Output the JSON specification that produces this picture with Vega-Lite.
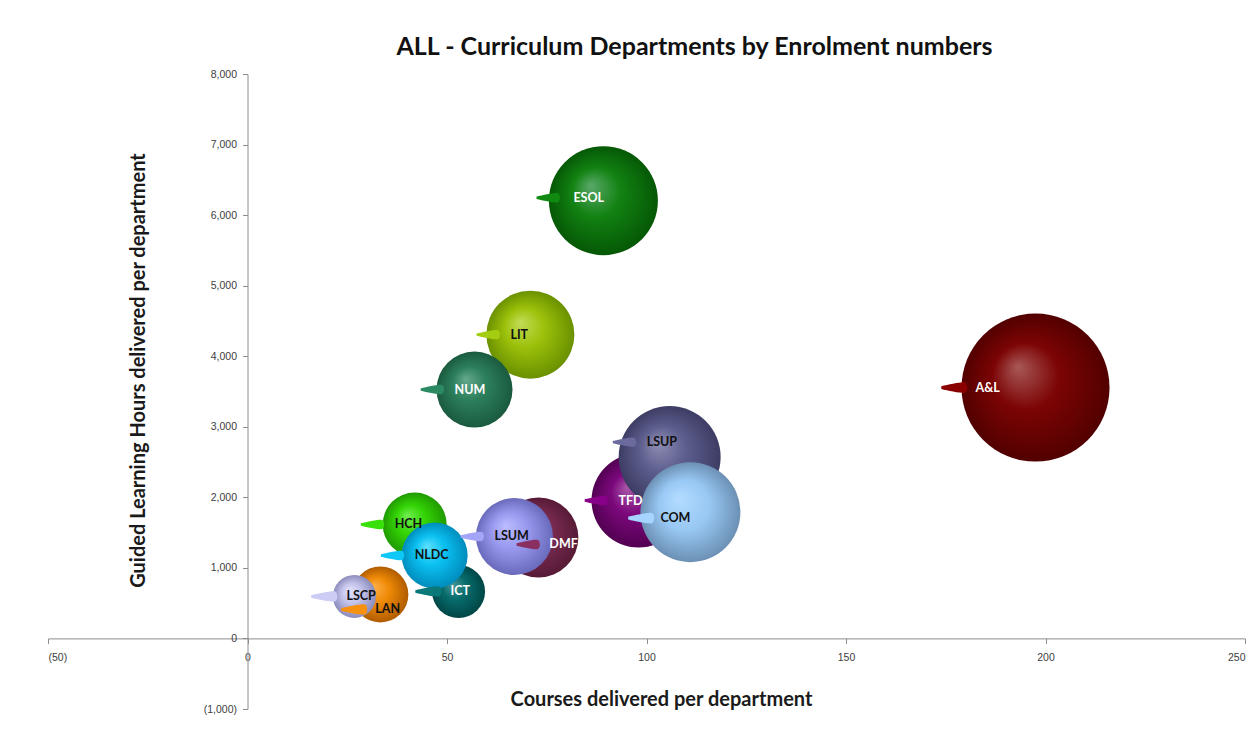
{
  "$schema": "https://vega.github.io/schema/vega-lite/v6.json",
  "autosize": {"type": "none"},
  "padding": {"left": 48, "top": 74, "right": 2, "bottom": 42},
  "width": 1197,
  "height": 635,
  "background": "white",
  "title": {
    "text": "ALL - Curriculum Departments by Enrolment numbers",
    "font": "Lato",
    "fontSize": 25,
    "fontWeight": "bold",
    "color": "#111111",
    "anchor": "middle",
    "dx": 48,
    "offset": 9
  },
  "config": {
    "view": {"stroke": null},
    "axis": {
      "labelFont": "Liberation Sans",
      "labelFontSize": 10.5,
      "labelColor": "#404040",
      "domainColor": "#8c8c8c",
      "tickColor": "#8c8c8c",
      "tickSize": 5,
      "grid": false,
      "titleFont": "Lato",
      "titleFontSize": 20,
      "titleFontWeight": "bold",
      "titleColor": "#1a1a1a"
    }
  },
  "data": {
    "values": [
      {"dept": "A&L", "courses": 197.5, "glh": 3555, "enrolments": 5476},
      {"dept": "ESOL", "courses": 89.2, "glh": 6204, "enrolments": 2970},
      {"dept": "LIT", "courses": 70.9, "glh": 4306, "enrolments": 1936},
      {"dept": "NUM", "courses": 56.9, "glh": 3527, "enrolments": 1444},
      {"dept": "TFD", "courses": 98, "glh": 1955, "enrolments": 2209},
      {"dept": "LSUP", "courses": 105.8, "glh": 2570, "enrolments": 2601},
      {"dept": "COM", "courses": 111, "glh": 1790, "enrolments": 2500},
      {"dept": "DMF", "courses": 72.9, "glh": 1431, "enrolments": 1600},
      {"dept": "LSUM", "courses": 66.9, "glh": 1445, "enrolments": 1482},
      {"dept": "HCH", "courses": 41.9, "glh": 1615, "enrolments": 1024},
      {"dept": "ICT", "courses": 52.9, "glh": 666, "enrolments": 702},
      {"dept": "NLDC", "courses": 46.9, "glh": 1176, "enrolments": 1089},
      {"dept": "LAN", "courses": 33.3, "glh": 623, "enrolments": 784},
      {"dept": "LSCP", "courses": 26.8, "glh": 595, "enrolments": 462}
    ]
  },
  "encoding": {
    "x": {
      "field": "courses",
      "type": "quantitative",
      "scale": {"domain": [-50, 250], "nice": false, "zero": false},
      "axis": {
        "title": "Courses delivered per department",
        "values": [-50, 0, 50, 100, 150, 200, 250],
        "offset": -70.6,
        "labelPadding": 9,
        "labelExpr": "datum.value < 0 ? '(' + format(-datum.value, ',') + ')' : format(datum.value, ',')",
        "titleX": 613,
        "titleY": 61,
        "titleBaseline": "middle",
        "titleAnchor": null
      }
    },
    "y": {
      "field": "glh",
      "type": "quantitative",
      "scale": {"domain": [-1000, 8000], "nice": false, "zero": false},
      "axis": {
        "title": "Guided Learning Hours delivered per department",
        "values": [-1000, 0, 1000, 2000, 3000, 4000, 5000, 6000, 7000, 8000],
        "offset": -199.5,
        "labelPadding": 6,
        "labelExpr": "datum.value < 0 ? '(' + format(-datum.value, ',') + ')' : format(datum.value, ',')",
        "titleX": -109,
        "titleY": 296,
        "titleAngle": -90,
        "titleBaseline": "middle",
        "titleAlign": "center"
      }
    },
    "color": {
      "field": "dept",
      "type": "nominal",
      "legend": null,
      "scale": {
        "domain": ["A&L", "ESOL", "LIT", "NUM", "TFD", "LSUP", "COM", "DMF", "LSUM", "HCH", "ICT", "NLDC", "LAN", "LSCP"],
        "range": ["#8a0000", "#108a10", "#a4cc10", "#2c8a62", "#880088", "#6a6a9c", "#a4d4ff", "#8a3060", "#a4a4f8", "#3ae00a", "#087878", "#10c8f8", "#f89010", "#ccccf4"]
      }
    }
  },
  "layer": [
    {
      "mark": {"type": "point", "shape": "circle", "filled": true, "opacity": 1, "strokeWidth": 0},
      "encoding": {
        "size": {"field": "enrolments", "type": "quantitative", "scale": {"type": "linear", "domain": [0, 5476], "range": [0, 21904], "zero": true}, "legend": null},
        "fill": {
          "condition": [
            {"test": "datum.dept === 'A&L'", "value": {"gradient": "radial", "x1": 0.38, "y1": 0.36, "r1": 0, "x2": 0.5, "y2": 0.5, "r2": 0.5, "stops": [{"offset": 0, "color": "#a85858"}, {"offset": 0.45, "color": "#7c0404"}, {"offset": 1, "color": "#520000"}]}},
            {"test": "datum.dept === 'ESOL'", "value": {"gradient": "radial", "x1": 0.38, "y1": 0.36, "r1": 0, "x2": 0.5, "y2": 0.5, "r2": 0.5, "stops": [{"offset": 0, "color": "#5aa86a"}, {"offset": 0.45, "color": "#128212"}, {"offset": 1, "color": "#055805"}]}},
            {"test": "datum.dept === 'LIT'", "value": {"gradient": "radial", "x1": 0.38, "y1": 0.36, "r1": 0, "x2": 0.5, "y2": 0.5, "r2": 0.5, "stops": [{"offset": 0, "color": "#c2dc58"}, {"offset": 0.45, "color": "#9cc10a"}, {"offset": 1, "color": "#6a9000"}]}},
            {"test": "datum.dept === 'NUM'", "value": {"gradient": "radial", "x1": 0.38, "y1": 0.36, "r1": 0, "x2": 0.5, "y2": 0.5, "r2": 0.5, "stops": [{"offset": 0, "color": "#65a88a"}, {"offset": 0.45, "color": "#2c7f5c"}, {"offset": 1, "color": "#1a5a3e"}]}},
            {"test": "datum.dept === 'TFD'", "value": {"gradient": "radial", "x1": 0.38, "y1": 0.36, "r1": 0, "x2": 0.5, "y2": 0.5, "r2": 0.5, "stops": [{"offset": 0, "color": "#a858a8"}, {"offset": 0.45, "color": "#7c087c"}, {"offset": 1, "color": "#520052"}]}},
            {"test": "datum.dept === 'LSUP'", "value": {"gradient": "radial", "x1": 0.38, "y1": 0.36, "r1": 0, "x2": 0.5, "y2": 0.5, "r2": 0.5, "stops": [{"offset": 0, "color": "#8e8eb4"}, {"offset": 0.45, "color": "#5e5e8e"}, {"offset": 1, "color": "#3c3c64"}]}},
            {"test": "datum.dept === 'COM'", "value": {"gradient": "radial", "x1": 0.38, "y1": 0.36, "r1": 0, "x2": 0.5, "y2": 0.5, "r2": 0.5, "stops": [{"offset": 0, "color": "#b4dcff"}, {"offset": 0.5, "color": "#98c8f4"}, {"offset": 1, "color": "#6c90b4"}]}},
            {"test": "datum.dept === 'DMF'", "value": {"gradient": "radial", "x1": 0.38, "y1": 0.36, "r1": 0, "x2": 0.5, "y2": 0.5, "r2": 0.5, "stops": [{"offset": 0, "color": "#a06082"}, {"offset": 0.45, "color": "#7c2c52"}, {"offset": 1, "color": "#561a36"}]}},
            {"test": "datum.dept === 'LSUM'", "value": {"gradient": "radial", "x1": 0.38, "y1": 0.36, "r1": 0, "x2": 0.5, "y2": 0.5, "r2": 0.5, "stops": [{"offset": 0, "color": "#bcbcff"}, {"offset": 0.45, "color": "#9a9af0"}, {"offset": 1, "color": "#6a6abc"}]}},
            {"test": "datum.dept === 'HCH'", "value": {"gradient": "radial", "x1": 0.38, "y1": 0.36, "r1": 0, "x2": 0.5, "y2": 0.5, "r2": 0.5, "stops": [{"offset": 0, "color": "#70ee50"}, {"offset": 0.45, "color": "#34d406"}, {"offset": 1, "color": "#209a00"}]}},
            {"test": "datum.dept === 'ICT'", "value": {"gradient": "radial", "x1": 0.38, "y1": 0.36, "r1": 0, "x2": 0.5, "y2": 0.5, "r2": 0.5, "stops": [{"offset": 0, "color": "#4a9898"}, {"offset": 0.45, "color": "#086c6c"}, {"offset": 1, "color": "#004646"}]}},
            {"test": "datum.dept === 'NLDC'", "value": {"gradient": "radial", "x1": 0.38, "y1": 0.36, "r1": 0, "x2": 0.5, "y2": 0.5, "r2": 0.5, "stops": [{"offset": 0, "color": "#5ee0ff"}, {"offset": 0.45, "color": "#0ac0f0"}, {"offset": 1, "color": "#008cbc"}]}},
            {"test": "datum.dept === 'LAN'", "value": {"gradient": "radial", "x1": 0.38, "y1": 0.36, "r1": 0, "x2": 0.5, "y2": 0.5, "r2": 0.5, "stops": [{"offset": 0, "color": "#ffb04a"}, {"offset": 0.45, "color": "#ee8a06"}, {"offset": 1, "color": "#b05c00"}]}},
            {"test": "datum.dept === 'LSCP'", "value": {"gradient": "radial", "x1": 0.38, "y1": 0.36, "r1": 0, "x2": 0.5, "y2": 0.5, "r2": 0.5, "stops": [{"offset": 0, "color": "#e4e4ff"}, {"offset": 0.45, "color": "#c4c4ec"}, {"offset": 1, "color": "#8c8cbc"}]}}
          ],
          "value": "#888888"
        }
      }
    },
    {
      "transform": [{"filter": "indexof(['LIT','NUM','HCH','LSUM','TFD','NLDC'], datum.dept) >= 0"}],
      "layer": [
        {"mark": {"type": "point", "shape": "M -1 -0.1 C -0.5 -0.22 0.3 -0.4 0.75 -0.4 C 1.05 -0.36 1.05 0.36 0.75 0.4 C 0.3 0.4 -0.5 0.22 -1 0.1 Z", "filled": true, "opacity": 1, "strokeWidth": 0, "size": 560, "xOffset": -42}},
        {"mark": {"type": "text", "align": "left", "baseline": "middle", "dx": -20, "font": "Lato", "fontSize": 12.5, "fontWeight": "bold"},
         "encoding": {"text": {"field": "dept", "type": "nominal"}, "color": {"condition": {"test": "indexof(['A&L','ESOL','NUM','TFD','DMF','ICT'], datum.dept) >= 0", "value": "#ffffff"}, "value": "#111111"}}}
      ]
    },
    {
      "transform": [{"filter": "datum.dept === 'ESOL'"}],
      "layer": [
        {"mark": {"type": "point", "shape": "M -1 -0.1 C -0.5 -0.22 0.3 -0.4 0.75 -0.4 C 1.05 -0.36 1.05 0.36 0.75 0.4 C 0.3 0.4 -0.5 0.22 -1 0.1 Z", "filled": true, "opacity": 1, "strokeWidth": 0, "size": 560, "xOffset": -55, "yOffset": -3}},
        {"mark": {"type": "text", "align": "left", "baseline": "middle", "dx": -30, "dy": -3, "font": "Lato", "fontSize": 12.5, "fontWeight": "bold"},
         "encoding": {"text": {"field": "dept", "type": "nominal"}, "color": {"value": "#ffffff"}}}
      ]
    },
    {
      "transform": [{"filter": "datum.dept === 'COM'"}],
      "layer": [
        {"mark": {"type": "point", "shape": "M -1 -0.1 C -0.5 -0.22 0.3 -0.4 0.75 -0.4 C 1.05 -0.36 1.05 0.36 0.75 0.4 C 0.3 0.4 -0.5 0.22 -1 0.1 Z", "filled": true, "opacity": 1, "strokeWidth": 0, "size": 700, "xOffset": -49, "yOffset": 6}},
        {"mark": {"type": "text", "align": "left", "baseline": "middle", "dx": -30, "dy": 6, "font": "Lato", "fontSize": 12.5, "fontWeight": "bold"},
         "encoding": {"text": {"field": "dept", "type": "nominal"}, "color": {"value": "#111111"}}}
      ]
    },
    {
      "transform": [{"filter": "datum.dept === 'LSUP'"}],
      "layer": [
        {"mark": {"type": "point", "shape": "M -1 -0.1 C -0.5 -0.22 0.3 -0.4 0.75 -0.4 C 1.05 -0.36 1.05 0.36 0.75 0.4 C 0.3 0.4 -0.5 0.22 -1 0.1 Z", "filled": true, "opacity": 1, "strokeWidth": 0, "size": 560, "xOffset": -45, "yOffset": -15}},
        {"mark": {"type": "text", "align": "left", "baseline": "middle", "dx": -23, "dy": -15, "font": "Lato", "fontSize": 12.5, "fontWeight": "bold"},
         "encoding": {"text": {"field": "dept", "type": "nominal"}, "color": {"value": "#111111"}}}
      ]
    },
    {
      "transform": [{"filter": "datum.dept === 'A&L'"}],
      "layer": [
        {"mark": {"type": "point", "shape": "M -1 -0.1 C -0.5 -0.22 0.3 -0.4 0.75 -0.4 C 1.05 -0.36 1.05 0.36 0.75 0.4 C 0.3 0.4 -0.5 0.22 -1 0.1 Z", "filled": true, "opacity": 1, "strokeWidth": 0, "size": 700, "xOffset": -81}},
        {"mark": {"type": "text", "align": "left", "baseline": "middle", "dx": -60, "font": "Lato", "fontSize": 12.5, "fontWeight": "bold"},
         "encoding": {"text": {"field": "dept", "type": "nominal"}, "color": {"value": "#ffffff"}}}
      ]
    },
    {
      "transform": [{"filter": "datum.dept === 'ICT' || datum.dept === 'LSCP'"}],
      "layer": [
        {"mark": {"type": "point", "shape": "M -1 -0.1 C -0.5 -0.22 0.3 -0.4 0.75 -0.4 C 1.05 -0.36 1.05 0.36 0.75 0.4 C 0.3 0.4 -0.5 0.22 -1 0.1 Z", "filled": true, "opacity": 1, "strokeWidth": 0, "size": 700, "xOffset": -30}},
        {"mark": {"type": "text", "align": "left", "baseline": "middle", "dx": -8, "font": "Lato", "fontSize": 12.5, "fontWeight": "bold"},
         "encoding": {"text": {"field": "dept", "type": "nominal"}, "color": {"condition": {"test": "datum.dept === 'ICT'", "value": "#ffffff"}, "value": "#111111"}}}
      ]
    },
    {
      "transform": [{"filter": "datum.dept === 'DMF'"}],
      "layer": [
        {"mark": {"type": "point", "shape": "M -1 -0.1 C -0.5 -0.22 0.3 -0.4 0.75 -0.4 C 1.05 -0.36 1.05 0.36 0.75 0.4 C 0.3 0.4 -0.5 0.22 -1 0.1 Z", "filled": true, "opacity": 1, "strokeWidth": 0, "size": 560, "xOffset": -10, "yOffset": 7}},
        {"mark": {"type": "text", "align": "left", "baseline": "middle", "dx": 11, "dy": 7, "font": "Lato", "fontSize": 12.5, "fontWeight": "bold"},
         "encoding": {"text": {"field": "dept", "type": "nominal"}, "color": {"value": "#ffffff"}}}
      ]
    },
    {
      "transform": [{"filter": "datum.dept === 'LAN'"}],
      "layer": [
        {"mark": {"type": "point", "shape": "M -1 -0.1 C -0.5 -0.22 0.3 -0.4 0.75 -0.4 C 1.05 -0.36 1.05 0.36 0.75 0.4 C 0.3 0.4 -0.5 0.22 -1 0.1 Z", "filled": true, "opacity": 1, "strokeWidth": 0, "size": 700, "xOffset": -26, "yOffset": 15}},
        {"mark": {"type": "text", "align": "left", "baseline": "middle", "dx": -5, "dy": 15, "font": "Lato", "fontSize": 12.5, "fontWeight": "bold"},
         "encoding": {"text": {"field": "dept", "type": "nominal"}, "color": {"value": "#111111"}}}
      ]
    }
  ]
}
